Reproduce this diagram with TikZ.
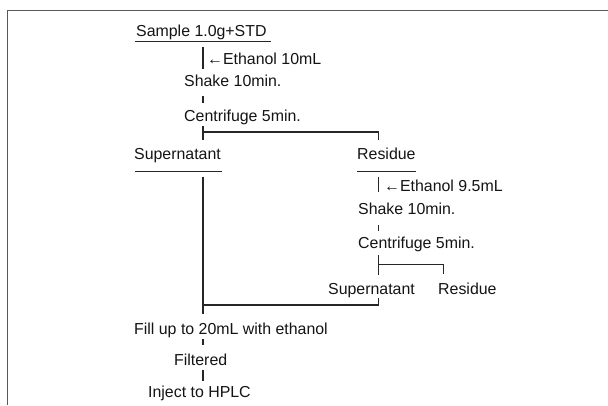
\documentclass[tikz,border=0pt]{standalone}
\usepackage{fontspec}
\setmainfont{Liberation Sans}
\begin{document}
\begin{tikzpicture}[x=1pt,y=-1pt,
  lbl/.style={anchor=base west,inner sep=0pt,text=black!92,font=\fontsize{15.9}{18}\selectfont},
  ln/.style={line width=1.1pt,draw=black!85},
  frame/.style={line width=1.5pt,draw=black!65}]
\useasboundingbox (0,0) rectangle (608,405);
% frame
\coordinate (fbl) at (7.5,405);
\coordinate (ftl) at (7.5,10.5);
\coordinate (ftr) at (608,10.5);
\draw[frame] (fbl) -- (ftl) -- (ftr);
% texts
\node[lbl] (sample) at (136,36) {Sample 1.0g+STD};
\node[lbl] (eth1) at (207,64) {←Ethanol 10mL};
\node[lbl] (shake1) at (184,86) {Shake 10min.};
\node[lbl] (cent1) at (184,121) {Centrifuge 5min.};
\node[lbl] (sup1) at (134,159) {Supernatant};
\node[lbl] (res1) at (357,159) {Residue};
\node[lbl] (eth2) at (384,191.5) {←Ethanol 9.5mL};
\node[lbl] (shake2) at (358,214) {Shake 10min.};
\node[lbl] (cent2) at (358,248) {Centrifuge 5min.};
\node[lbl] (sup2) at (328,294) {Supernatant};
\node[lbl] (res2) at (438,294) {Residue};
\node[lbl] (fill) at (134,334) {Fill up to 20mL with ethanol};
\node[lbl] (filt) at (174,365) {Filtered};
\node[lbl] (inj) at (148,397.5) {Inject to HPLC};
% connector points
\coordinate (u0a) at (135,41.7);  \coordinate (u0b) at (271,41.7);
\coordinate (v1a) at (203,46.5);  \coordinate (v1b) at (203,68.5);
\coordinate (t1a) at (203,96);    \coordinate (t1b) at (203,103);
\coordinate (b1a) at (203,126);   \coordinate (b1j) at (203,132);
\coordinate (b1l) at (203,139.5); \coordinate (b1r) at (378.7,132);
\coordinate (b1rd) at (378.7,139.5);
\coordinate (u1a) at (135,171.7); \coordinate (u1b) at (222,171.7);
\coordinate (u2a) at (357,171.7); \coordinate (u2b) at (416,171.7);
\coordinate (lva) at (203,176.5); \coordinate (lvb) at (203,314);
\coordinate (rva) at (378.7,176.5); \coordinate (rvb) at (378.7,192);
\coordinate (t2a) at (378.7,225); \coordinate (t2b) at (378.7,231);
\coordinate (b2a) at (378.7,255); \coordinate (b2b) at (378.7,275);
\coordinate (b2j) at (378.7,264.3); \coordinate (b2r) at (443.3,264.3);
\coordinate (b2rd) at (443.3,274.3);
\coordinate (j3a) at (378.7,298); \coordinate (j3b) at (378.7,305);
\coordinate (j3c) at (203,305);
\coordinate (t3a) at (203,339.3); \coordinate (t3b) at (203,345);
\coordinate (t4a) at (203,370);   \coordinate (t4b) at (203,380.7);
% connectors
\draw[ln] (u0a) -- (u0b);
\draw[ln] (v1a) -- (v1b);
\draw[ln] (t1a) -- (t1b);
\draw[ln] (b1a) -- (b1l);
\draw[ln] (b1j) -- (b1r) -- (b1rd);
\draw[ln] (u1a) -- (u1b);
\draw[ln] (u2a) -- (u2b);
\draw[ln] (lva) -- (lvb);
\draw[ln] (rva) -- (rvb);
\draw[ln] (t2a) -- (t2b);
\draw[ln] (b2a) -- (b2b);
\draw[ln] (b2j) -- (b2r) -- (b2rd);
\draw[ln] (j3a) -- (j3b) -- (j3c);
\draw[ln] (t3a) -- (t3b);
\draw[ln] (t4a) -- (t4b);
\end{tikzpicture}
\end{document}
